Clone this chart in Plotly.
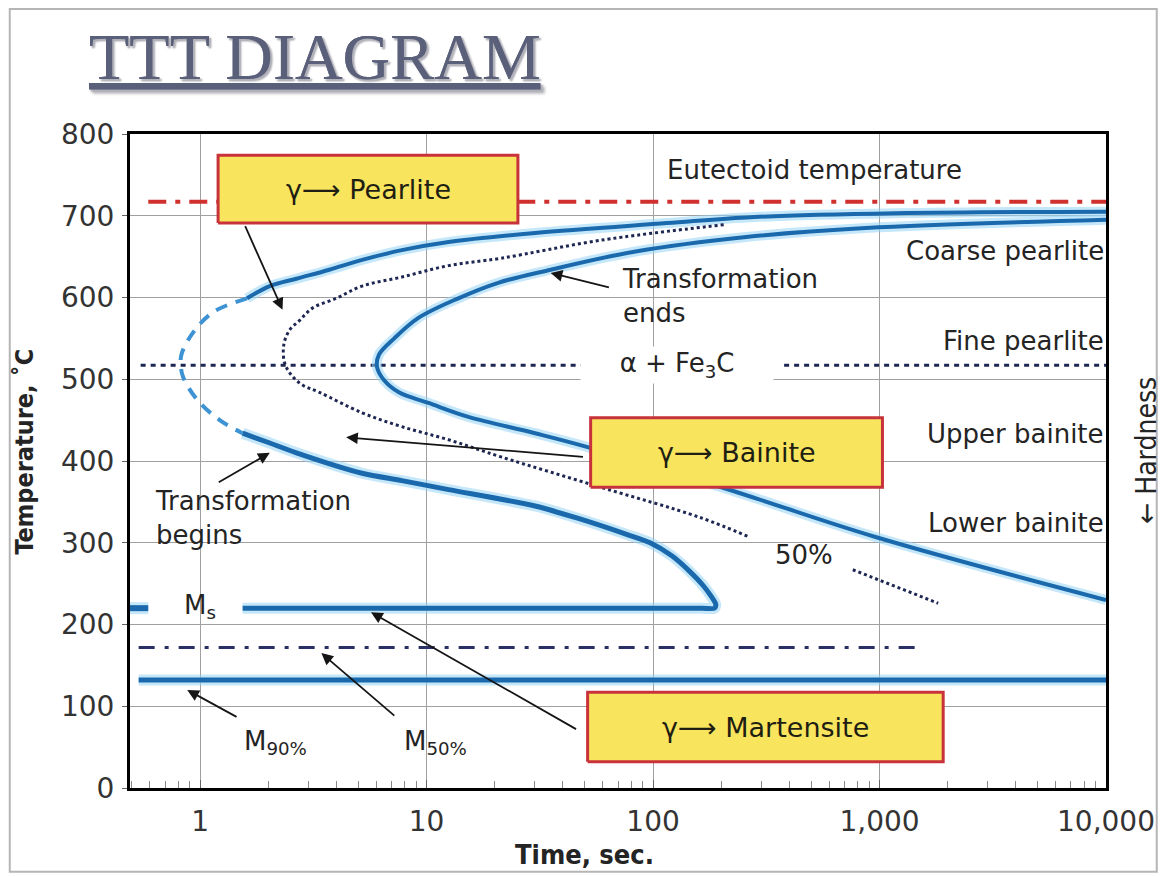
import numpy as np
import plotly.graph_objects as go

# ---------------- data (time in s, temperature in °C) ----------------
# transformation-start curve (outer C-curve)
start_upper_t = [1.61, 2.03, 2.66, 3.72, 5.19, 7.77, 12.5, 30.1, 115, 258, 1175, 10000]
start_upper_T = [599, 614, 623, 634, 646, 658, 668, 679, 691, 698, 703, 705]
start_nose_t = [1.61, 1.14, 0.93, 0.83, 0.82, 0.84, 0.97, 1.22, 1.54]
start_nose_T = [599, 582, 557, 532, 520, 503, 475, 450, 434]
start_lower_t = [1.54, 2.03, 2.66, 5.19, 7.77, 12.5, 30.1, 46.4, 76.9, 97, 121, 145, 166, 181,
                 189, 187, 164, 1.54]
start_lower_T = [434, 422, 410, 385, 376, 365, 345, 330, 310, 300, 284, 265, 248, 234,
                 225, 220, 220, 220]
ms_stub_t = [0.49, 0.59]
ms_T = 220

# transformation-end curve (inner C-curve)
end_t = [10000, 868, 258, 82.6, 35.3, 20.7, 13.8, 9.2, 7.2, 6.16, 6.04, 6.48, 7.54, 10.2,
         15.3, 30.1, 51.4, 205, 960, 10000]
end_T = [695, 685, 674, 656, 634, 618, 599, 575, 550, 530, 515, 499, 484, 471,
         454, 434, 417, 367, 307, 230]

# 50 % transformation curve (two pieces, interrupted by the "50%" label)
half_t = [205, 58.6, 21.3, 12.5, 7.77, 5.19, 3.99, 3.13, 2.75, 2.48, 2.34, 2.36, 2.53, 2.83,
          3.36, 5.19, 7.77, 12.5, 21.3, 58.6, 161, 266]
half_T = [689, 670, 648, 639, 625, 614, 599, 587, 572, 560, 542, 520, 505, 493,
          484, 459, 442, 426, 405, 368, 331, 307]
half2_t = [762, 1815]
half2_T = [267, 226]

# horizontal reference lines
eutectoid_T = 717
eutectoid_t = [0.59, 10000]
alpha_T = 517
alpha_left_t = [0.546, 49.8]
alpha_right_t = [379, 10000]
m50_T = 172
m50_t = [0.535, 1438]
m90_T = 132
m90_t = [0.535, 10000]

# phase boxes
box_labels = ["γ⟶ Pearlite", "γ⟶ Bainite", "γ⟶ Martensite"]
box_t0 = [1.20, 53, 51.4]
box_t1 = [25.3, 1030, 1910]
box_T0 = [691, 368, 32]
box_T1 = [774, 453, 117]

# axis ticks
x_tickvals = [1, 10, 100, 1000, 10000]
x_ticktext = ["1", "10", "100", "1,000", "10,000"]

# region labels on the right
region_labels = ["Coarse pearlite", "Fine pearlite", "Upper bainite", "Lower bainite"]
region_T = [657, 547, 433, 324]
region_t = 10000

# free text labels: (text, time, temperature, xanchor)
text_labels = [
    ("Eutectoid temperature", 514, 756, "center"),
    ("Transformation<br>ends", 71.7, 602, "left"),
    ("Transformation<br>begins", 0.622, 330, "left"),
    ("50%", 464, 285, "center"),
    ("M<sub>s</sub>", 1.0, 222, "center"),
    ("M<sub>90%</sub>", 2.15, 56, "center"),
    ("M<sub>50%</sub>", 10.9, 56, "center"),
]

# arrows: head (time, temp) and tail (time, temp)
arrow_head_t = [2.31, 2.03, 35.3, 4.41, 5.68, 3.43, 0.877]
arrow_head_T = [585, 410, 630, 429, 215, 165, 120]
arrow_tail_t = [1.57, 1.19, 64.8, 49.8, 46.4, 7.31, 1.47]
arrow_tail_T = [689, 373, 612, 405, 71, 87, 86]

# ---------------- styling ----------------
BLUE = "#1b69ad"
LIGHTBLUE = "#3d93d3"
HALO = "rgba(150,212,245,0.55)"
NAVY = "#1d2752"
RED = "#d0302e"
TXT = "#242424"
FONT = "DejaVu Sans"
COND = "DejaVu Sans Condensed, DejaVu Sans"

fig = go.Figure()


def add_line(t, T, color, width, dash="solid", shape="spline", halo=False, smoothing=1.0):
    if halo:
        fig.add_trace(go.Scatter(x=t, y=T, mode="lines", hoverinfo="skip",
                                 line=dict(color=HALO, width=width + 6, shape=shape,
                                           smoothing=smoothing)))
    fig.add_trace(go.Scatter(x=t, y=T, mode="lines", hoverinfo="skip",
                             line=dict(color=color, width=width, dash=dash, shape=shape,
                                       smoothing=smoothing)))


# horizontal lines
add_line(eutectoid_t, [eutectoid_T] * 2, RED, 4, dash="18px,9px,5px,9px", shape="linear")
add_line(alpha_left_t, [alpha_T] * 2, NAVY, 3, dash="5px,5px", shape="linear")
add_line(alpha_right_t, [alpha_T] * 2, NAVY, 3, dash="5px,5px", shape="linear")
add_line(m50_t, [m50_T] * 2, "#283066", 3, dash="16px,10px,4px,10px", shape="linear")
add_line(m90_t, [m90_T] * 2, BLUE, 5, shape="linear", halo=True)
add_line(ms_stub_t, [ms_T] * 2, BLUE, 6, shape="linear", halo=True)

# C-curves
add_line(start_upper_t, start_upper_T, BLUE, 4, halo=True)
add_line(start_nose_t, start_nose_T, LIGHTBLUE, 4, dash="12px,9px")
add_line(start_lower_t, start_lower_T, BLUE, 5, halo=True, smoothing=0.7)
add_line(end_t, end_T, BLUE, 4, halo=True)
add_line(half_t, half_T, NAVY, 3, dash="dot")
add_line(half2_t, half2_T, NAVY, 3, dash="dot", shape="linear")

# boxes
for lab, t0, t1, T0, T1 in zip(box_labels, box_t0, box_t1, box_T0, box_T1):
    fig.add_trace(go.Scatter(x=[t0, t1, t1, t0, t0], y=[T0, T0, T1, T1, T0], mode="lines",
                             fill="toself", fillcolor="#f9e45e", hoverinfo="skip",
                             line=dict(color="#c8323a", width=3)))

annotations = []
for lab, t0, t1, T0, T1 in zip(box_labels, box_t0, box_t1, box_T0, box_T1):
    annotations.append(dict(x=(np.log10(t0) + np.log10(t1)) / 2, y=(T0 + T1) / 2,
                            xref="x", yref="y", text=lab, showarrow=False,
                            xanchor="center", yanchor="middle",
                            font=dict(family=FONT, size=27, color="#1e1e12")))

for lab, T in zip(region_labels, region_T):
    annotations.append(dict(x=np.log10(region_t), y=T, xref="x", yref="y", text=lab,
                            showarrow=False, xanchor="right", yanchor="middle",
                            font=dict(family=FONT, size=26, color=TXT)))

for lab, t, T, xa in text_labels:
    annotations.append(dict(x=np.log10(t), y=T, xref="x", yref="y", text=lab,
                            showarrow=False, xanchor=xa, yanchor="middle", align="left",
                            font=dict(family=FONT, size=26, color=TXT)))

# alpha + Fe3C label with a white background hiding the grid line
annotations.append(dict(x=np.log10(127), y=alpha_T, xref="x", yref="y",
                        text="α + Fe<sub>3</sub>C", showarrow=False, bgcolor="white",
                        width=190, height=34, xanchor="center", yanchor="middle",
                        font=dict(family=FONT, size=26, color=TXT)))

for ht, hT, tt, tT in zip(arrow_head_t, arrow_head_T, arrow_tail_t, arrow_tail_T):
    annotations.append(dict(x=np.log10(ht), y=hT, xref="x", yref="y",
                            ax=np.log10(tt), ay=tT, axref="x", ayref="y",
                            text="", showarrow=True, arrowhead=2, arrowsize=1.3,
                            arrowwidth=1.8, arrowcolor="#151515", standoff=0))

# title and axis titles
annotations.append(dict(x=0.1894, y=1.119, xref="paper", yref="paper", text="TTT DIAGRAM",
                        showarrow=False, xanchor="center", yanchor="middle",
                        font=dict(family="Liberation Serif", size=66, color="#5a5f7a",
                                  lineposition="under", shadow="2px 2px 2px #b0b0b8")))
annotations.append(dict(x=-0.108, y=0.514, xref="paper", yref="paper",
                        text="<b>Temperature, ˚C</b>", textangle=-90, showarrow=False,
                        xanchor="center", yanchor="middle",
                        font=dict(family=COND, size=25, color=TXT)))
annotations.append(dict(x=0.466, y=-0.102, xref="paper", yref="paper",
                        text="<b>Time, sec.</b>", showarrow=False,
                        xanchor="center", yanchor="middle",
                        font=dict(family=COND, size=27, color=TXT)))
annotations.append(dict(x=1.042, y=0.517, xref="paper", yref="paper",
                        text="← Hardness", textangle=-90, showarrow=False,
                        xanchor="center", yanchor="middle",
                        font=dict(family=COND, size=28, color=TXT)))

# the page body adds an 8px offset, so the figure is 8px smaller than the window
fig.update_layout(
    width=1159, height=868,
    margin=dict(l=122, r=55, t=126, b=88),
    paper_bgcolor="white", plot_bgcolor="white",
    showlegend=False,
    annotations=annotations,
    shapes=[dict(type="rect", xref="paper", yref="paper", x0=-0.1232, x1=1.052,
                 y0=-0.128, y1=1.191, line=dict(color="#b5b5b5", width=2), layer="below")],
)

fig.update_xaxes(type="log", range=[np.log10(0.49), 4],
                 tickvals=x_tickvals, ticktext=x_ticktext,
                 showgrid=True, gridcolor="#a0a0a0", gridwidth=1,
                 showline=True, mirror=True, linecolor="black", linewidth=3,
                 ticks="inside", ticklen=8, tickcolor="#666",
                 minor=dict(ticks="inside", ticklen=7, tickcolor="#888", dtick="D1", showgrid=False),
                 tickfont=dict(family=FONT, size=28, color="#333"),
                 ticklabelstandoff=6, zeroline=False)
fig.update_yaxes(range=[0, 800], dtick=100,
                 showgrid=True, gridcolor="#a0a0a0", gridwidth=1,
                 showline=True, mirror=True, linecolor="black", linewidth=3,
                 ticks="outside", ticklen=5, tickcolor="#666",
                 tickfont=dict(family=FONT, size=28, color="#333"),
                 ticklabelstandoff=2, zeroline=False)

fig.write_html("out.html")
